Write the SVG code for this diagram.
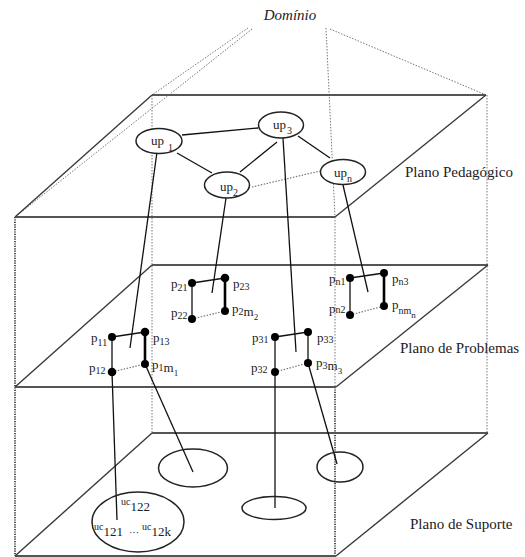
<svg xmlns="http://www.w3.org/2000/svg" width="525" height="557" viewBox="0 0 525 557" font-family="'Liberation Serif', 'DejaVu Serif', serif">
<style>
.edge{stroke:#3a3a3a;stroke-width:1.4;fill:none}
.hedge{stroke:#555;stroke-width:1.8;fill:none}
.dot{stroke:#777;stroke-width:1;stroke-dasharray:1.5 1.5;fill:none}
.ddot{stroke:#222;stroke-width:1.6;stroke-dasharray:1.2 1.2;fill:none}
.ln{stroke:#111;stroke-width:1.3;fill:none}
.bold{stroke:#000;stroke-width:2.6;fill:none}
.link{stroke:#777;stroke-width:1.2;stroke-dasharray:1.5 1.5;fill:none}
.ell{stroke:#222;stroke-width:1.5;fill:#fff}
.ell2{stroke:#222;stroke-width:1.5;fill:none}
.pt{fill:#000}
text{font-family:"Liberation Serif","DejaVu Serif",serif;fill:#222}
.lbl{font-size:13px}
.sub{font-size:10px}
.ssub{font-size:9px}
.plane{font-size:15px}
</style>
<rect width="525" height="557" fill="#fff"/>

<g id="domain">
  <text x="290" y="20" class="plane" font-style="italic" text-anchor="middle">Domínio</text>
  <line class="dot" x1="248" y1="28" x2="152" y2="95"/>
  <line class="dot" x1="252" y1="29" x2="15" y2="217"/>
  <line class="dot" x1="326" y1="28" x2="335" y2="217"/>
  <line class="dot" x1="330" y1="29" x2="486" y2="95"/>
</g>

<g id="frame-verticals">
  <line class="dot" x1="152" y1="95" x2="152" y2="433"/>
  <line class="dot" x1="487" y1="95" x2="487" y2="433"/>
  <line class="dot" x1="335" y1="217" x2="335" y2="387"/>
  <line class="ddot" x1="335" y1="387" x2="335" y2="556"/>
  <line class="ddot" x1="15" y1="217" x2="15" y2="556"/>
</g>

<g id="plano-pedagogico">
  <line class="hedge" x1="152" y1="95" x2="486" y2="95"/>
  <line class="edge" x1="486" y1="95" x2="335" y2="217"/>
  <line class="hedge" x1="15" y1="217" x2="335" y2="217"/>
  <line class="edge" x1="15" y1="217" x2="152" y2="95"/>
  <text x="405" y="177" class="plane">Plano Pedagógico</text>
</g>

<g id="plano-problemas">
  <line class="hedge" x1="152" y1="265" x2="488" y2="265"/>
  <line class="edge" x1="488" y1="265" x2="336" y2="387"/>
  <line class="hedge" x1="15" y1="387" x2="336" y2="387"/>
  <line class="edge" x1="15" y1="387" x2="152" y2="265"/>
  <text x="400" y="353" class="plane">Plano de Problemas</text>
</g>

<g id="plano-suporte">
  <line class="hedge" x1="152" y1="433" x2="488" y2="433"/>
  <line class="edge" x1="488" y1="433" x2="336" y2="556"/>
  <line class="hedge" x1="15" y1="556" x2="336" y2="556"/>
  <line class="edge" x1="15" y1="556" x2="152" y2="433"/>
  <text x="410" y="529" class="plane">Plano de Suporte</text>
</g>

<g id="connectors">
  <line class="ln" x1="182" y1="135" x2="258" y2="128"/>
  <line class="ln" x1="177" y1="153" x2="212" y2="173"/>
  <line class="ln" x1="277" y1="142" x2="240" y2="172"/>
  <line class="ln" x1="298" y1="136" x2="330" y2="158"/>
  <line class="link" x1="252" y1="187" x2="320" y2="171"/>
  <line class="ln" x1="157" y1="152" x2="130" y2="348"/>
  <line class="ln" x1="226" y1="198" x2="212" y2="293"/>
  <line class="ln" x1="283" y1="138" x2="296" y2="352"/>
  <line class="ln" x1="343" y1="185" x2="368" y2="292"/>
  <line class="ln" x1="112" y1="372" x2="117" y2="520"/>
  <line class="ln" x1="145" y1="364" x2="193" y2="472"/>
  <line class="ln" x1="275" y1="372" x2="275" y2="508"/>
  <line class="ln" x1="308" y1="363" x2="337" y2="464"/>
</g>

<g id="up1">
  <ellipse class="ell" cx="159" cy="141" rx="23" ry="12.5"/>
  <text x="151" y="145" class="lbl">up<tspan class="sub" dx="4" dy="6">1</tspan></text>
</g>
<g id="up3">
  <ellipse class="ell" cx="281" cy="125" rx="22.5" ry="13"/>
  <text x="273" y="129" class="lbl">up<tspan class="sub" dx="1" dy="5">3</tspan></text>
</g>
<g id="up2">
  <ellipse class="ell" cx="227" cy="185" rx="22.5" ry="13"/>
  <text x="220" y="191" class="lbl">up<tspan class="sub" dy="5">2</tspan></text>
</g>
<g id="upn">
  <ellipse class="ell" cx="343" cy="172" rx="22.5" ry="12.5"/>
  <text x="334" y="177" class="lbl">up<tspan class="sub" dy="5">n</tspan></text>
</g>

<g id="grupo1">
  <line class="ln" x1="112" y1="337" x2="145" y2="332"/>
  <line class="ln" x1="112" y1="337" x2="112" y2="372"/>
  <line class="bold" x1="145" y1="332" x2="145" y2="364"/>
  <line class="link" x1="112" y1="372" x2="145" y2="364"/>
  <circle class="pt" cx="112" cy="337" r="4"/>
  <circle class="pt" cx="145" cy="332" r="4.3"/>
  <circle class="pt" cx="112" cy="372" r="4.3"/>
  <circle class="pt" cx="145" cy="364" r="4"/>
  <text x="91" y="342" class="lbl">p<tspan class="sub" dy="4">11</tspan></text>
  <text x="153" y="342" class="lbl">p<tspan class="sub" dy="3">13</tspan></text>
  <text x="89" y="372" class="lbl">p<tspan class="sub" dy="2">12</tspan></text>
  <text x="152" y="369" class="lbl">p<tspan class="sub" dy="2">1</tspan><tspan class="lbl" dy="1">m</tspan><tspan class="ssub" dy="4">1</tspan></text>
</g>

<g id="grupo2">
  <line class="ln" x1="192" y1="283" x2="225" y2="278"/>
  <line class="ln" x1="192" y1="283" x2="192" y2="319"/>
  <line class="bold" x1="225" y1="278" x2="225" y2="311"/>
  <line class="link" x1="192" y1="319" x2="225" y2="311"/>
  <circle class="pt" cx="192" cy="283" r="4"/>
  <circle class="pt" cx="225" cy="278" r="4.3"/>
  <circle class="pt" cx="192" cy="319" r="4"/>
  <circle class="pt" cx="225" cy="311" r="4"/>
  <text x="171" y="288" class="lbl">p<tspan class="sub" dy="3">21</tspan></text>
  <text x="233" y="288" class="lbl">p<tspan class="sub" dy="2">23</tspan></text>
  <text x="171" y="317" class="lbl">p<tspan class="sub" dy="2">22</tspan></text>
  <text x="232" y="313" class="lbl">p<tspan class="sub" dy="2">2</tspan><tspan class="lbl" dy="1">m</tspan><tspan class="ssub" dy="4">2</tspan></text>
</g>

<g id="grupo3">
  <line class="ln" x1="275" y1="337" x2="308" y2="332"/>
  <line class="ln" x1="275" y1="337" x2="275" y2="372"/>
  <line class="ln" x1="308" y1="332" x2="308" y2="363"/>
  <line class="link" x1="275" y1="372" x2="308" y2="363"/>
  <circle class="pt" cx="275" cy="337" r="4"/>
  <circle class="pt" cx="308" cy="332" r="4"/>
  <circle class="pt" cx="275" cy="372" r="4"/>
  <circle class="pt" cx="308" cy="363" r="4"/>
  <text x="252" y="342" class="lbl">p<tspan class="sub" dy="1">31</tspan></text>
  <text x="317" y="342" class="lbl">p<tspan class="sub" dy="1">33</tspan></text>
  <text x="251" y="372" class="lbl">p<tspan class="sub" dy="1">32</tspan></text>
  <text x="316" y="367" class="lbl">p<tspan class="sub" dy="2">3</tspan><tspan class="lbl" dy="1">m</tspan><tspan class="ssub" dy="4">3</tspan></text>
</g>

<g id="grupon">
  <line class="ln" x1="350" y1="278" x2="384" y2="273"/>
  <line class="ln" x1="350" y1="278" x2="350" y2="315"/>
  <line class="bold" x1="384" y1="273" x2="384" y2="306"/>
  <line class="link" x1="350" y1="315" x2="384" y2="306"/>
  <circle class="pt" cx="350" cy="278" r="4"/>
  <circle class="pt" cx="384" cy="273" r="4"/>
  <circle class="pt" cx="350" cy="315" r="4"/>
  <circle class="pt" cx="384" cy="306" r="4"/>
  <text x="329" y="283" class="lbl">p<tspan class="sub" dy="2">n1</tspan></text>
  <text x="392" y="283" class="lbl">p<tspan class="sub" dy="2">n3</tspan></text>
  <text x="329" y="313" class="lbl">p<tspan class="sub">n2</tspan></text>
  <text x="392" y="309" class="lbl">p<tspan class="sub" dy="5">nm</tspan><tspan class="ssub" dy="4">n</tspan></text>
</g>

<g id="uc1">
  <ellipse class="ell2" cx="138" cy="522" rx="46" ry="30"/>
  <text x="121" y="505" class="sub">uc<tspan class="lbl" dy="6">122</tspan></text>
  <text x="94" y="530" class="sub">uc<tspan class="lbl" dy="6">121</tspan></text>
  <text x="129" y="536" class="sub">···</text>
  <text x="142" y="530" class="sub">uc<tspan class="lbl" dy="6">12k</tspan></text>
</g>
<g id="uc2">
  <ellipse class="ell2" cx="193" cy="468" rx="34.5" ry="19"/>
</g>
<g id="uc3">
  <ellipse class="ell2" cx="340" cy="467" rx="23" ry="15"/>
</g>
<g id="ucn">
  <ellipse class="ell2" cx="274" cy="508" rx="32" ry="11.5"/>
</g>
</svg>
